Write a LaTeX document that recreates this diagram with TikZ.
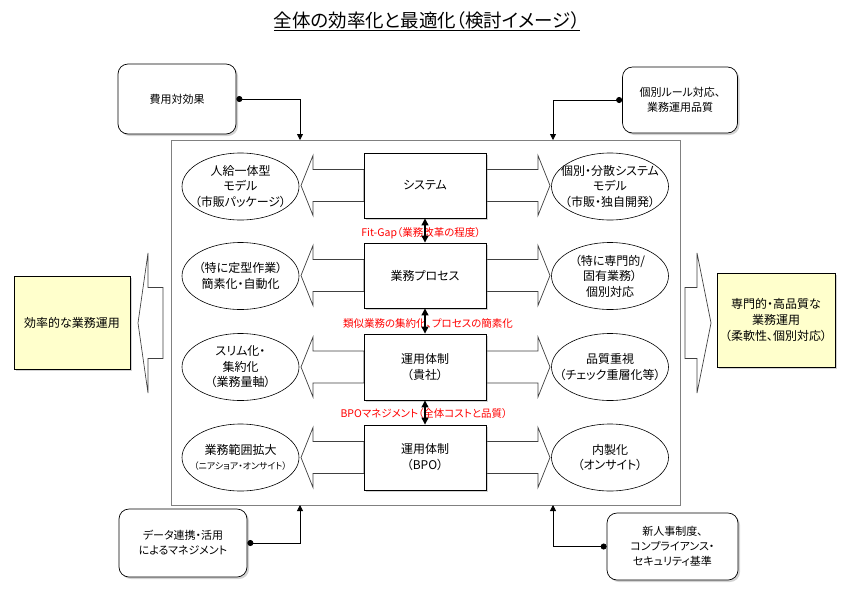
\documentclass[tikz,border=0pt]{standalone}
\usepackage{fontspec}
\setmainfont{Noto Sans CJK JP}[RawFeature=+palt]
\usetikzlibrary{shapes.geometric,arrows.meta,shadows}
\definecolor{goalyellow}{RGB}{255,255,204}

\begin{document}
\begin{tikzpicture}[x=1pt,y=-1pt,
        softshadow/.style={drop shadow={shadow xshift=2pt, shadow yshift=-2pt, opacity=.35}},
        frame/.style={draw=gray, line width=.8pt, minimum width=509, minimum height=365},
        procbox/.style={draw, line width=.9pt, fill=white, minimum width=122, minimum height=65, align=center, softshadow},
        idea/.style={ellipse, draw, line width=.6pt, fill=white, minimum width=117, minimum height=67, inner xsep=-14pt, inner ysep=-5pt, align=center, font=\fontsize{12}{15.5}\selectfont},
        goal/.style={draw, line width=.7pt, fill=goalyellow, minimum width=116, minimum height=93, align=center, softshadow},
        factor/.style={draw, line width=.7pt, rounded corners=10pt, fill=white, align=center, font=\fontsize{11}{15}\selectfont, softshadow},
        note/.style={text=red, font=\fontsize{10.5}{12}\selectfont, inner sep=1pt},
        blockarrow/.style={draw=black!75, fill=white, line width=.7pt},
        link/.style={line width=.8pt, {Circle[length=6pt]}-{Triangle[length=6pt,width=6pt]}},
        both/.style={line width=1.2pt, {Triangle[length=7pt,width=7pt]}-{Triangle[length=7pt,width=7pt]}},
        font=\fontsize{12}{16}\selectfont]
    \useasboundingbox (0,0) rectangle (862,606);

    \node (title) at (427,21) {\fontsize{18.5}{20}\selectfont\underline{全体の効率化と最適化（検討イメージ）}};

    \node[frame] (whole) at (425.5,322.5) {};

    % row arrows behind the boxes
    \foreach \r/\y in {1/185.5, 2/275.5, 3/367, 4/457.5} {
        \draw[blockarrow] (364,\y-16) -- (313,\y-16) -- (313,\y-30) -- (301,\y) -- (313,\y+30) -- (313,\y+16) -- (364,\y+16) -- cycle;
        \draw[blockarrow] (486,\y-16) -- (538,\y-16) -- (538,\y-30) -- (550,\y) -- (538,\y+30) -- (538,\y+16) -- (486,\y+16) -- cycle;
    }

    \node[procbox] (sys) at (425,185.5) {システム};
    \node[procbox] (proc) at (425,275.5) {業務プロセス};
    \node[procbox, minimum height=66] (own) at (425,367) {運用体制\\（貴社）};
    \node[procbox] (bpo) at (425,457.5) {運用体制\\（BPO）};

    \node[idea] (l1) at (240.5,186.5) {人給一体型\\モデル\\（市販パッケージ）};
    \node[idea] (l2) at (240.5,276) {（特に定型作業）\\簡素化・自動化};
    \node[idea] (l3) at (240.5,367) {スリム化・\\集約化\\（業務量軸）};
    \node[idea] (l4) at (240.5,457.5) {業務範囲拡大\\{\fontsize{9}{12}\selectfont（ニアショア・オンサイト）}};

    \node[idea] (r1) at (610,186.5) {個別・分散システム\\モデル\\（市販・独自開発）};
    \node[idea] (r2) at (610,276) {（特に専門的/\\固有業務）\\個別対応};
    \node[idea] (r3) at (610,367) {品質重視\\（チェック重層化等）};
    \node[idea] (r4) at (610,457.5) {内製化\\（オンサイト）};

    \node[note] (gap) at (421,233) {Fit-Gap（業務改革の程度）};
    \node[note] (merge) at (428,324) {類似業務の集約化、プロセスの簡素化};
    \node[note] (mgmt) at (424,414) {BPOマネジメント（全体コストと品質）};

    \draw[both] (sys.south) -- (proc.north);
    \draw[both] (proc.south) -- (own.north);
    \draw[both] (own.south) -- (bpo.north);

    % outcome arrows
    \draw[blockarrow] (163,287.5) -- (148,287.5) -- (148,253) -- (138,323) -- (148,393) -- (148,358.5) -- (163,358.5) -- cycle;
    \draw[blockarrow] (685,287.5) -- (697,287.5) -- (697,253) -- (711,323) -- (697,393) -- (697,358.5) -- (685,358.5) -- cycle;

    \node[goal] (effic) at (72,322.5) {効率的な業務運用};
    \node[goal, minimum width=118, minimum height=94] (expert) at (776,320) {専門的・高品質な\\業務運用\\（柔軟性、個別対応）};

    % surrounding factors
    \node[factor, minimum width=118, minimum height=70] (cost) at (177,99) {費用対効果};
    \node[factor, minimum width=115, minimum height=66] (rule) at (680,100) {個別ルール対応、\\業務運用品質};
    \node[factor, minimum width=128, minimum height=68] (data) at (183,543) {データ連携・活用\\によるマネジメント};
    \node[factor, minimum width=131, minimum height=67] (hr) at (672.5,546.5) {新人事制度、\\コンプライアンス・\\セキュリティ基準};

    \coordinate (inTL) at (300,140);
    \coordinate (inTR) at (553,140);
    \coordinate (inBL) at (300,505);
    \coordinate (inBR) at (553,505);

    \draw[link] (cost.east) -| (inTL);
    \draw[link] (rule.west) -| (inTR);
    \draw[link] (data.east) -| (inBL);
    \draw[link] (hr.west) -| (inBR);

\end{tikzpicture}
\end{document}
